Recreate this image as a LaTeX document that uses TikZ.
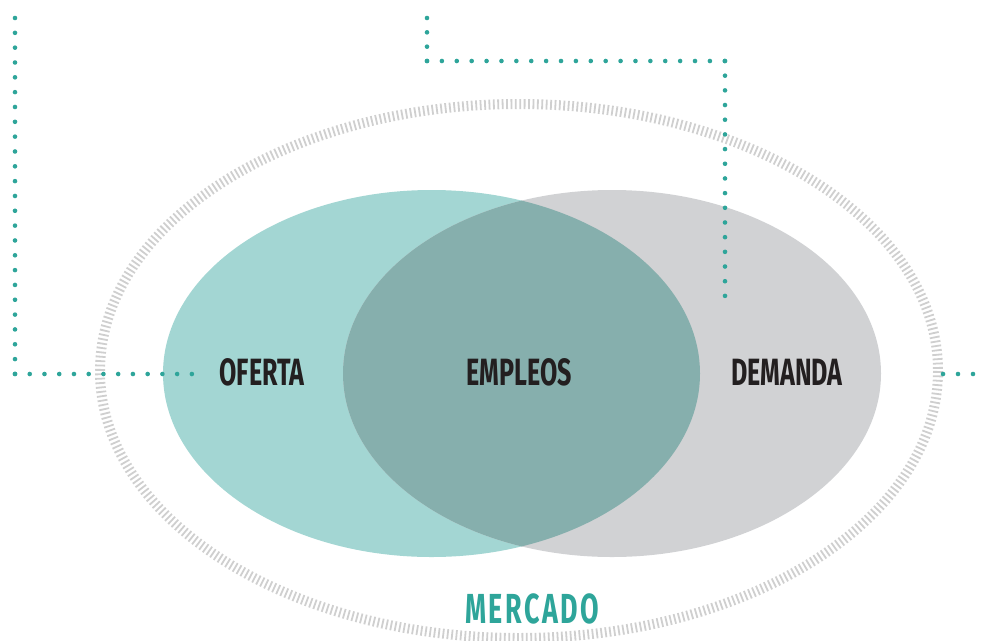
\documentclass[tikz,border=0pt]{standalone}
\usepackage{fontspec}
\usepackage{xcolor}
\usetikzlibrary{positioning}
\newfontfamily\condfont[FakeStretch=0.66]{Fira Sans}
\newfontfamily\widecondfont[FakeStretch=0.64, LetterSpace=6]{Fira Sans}

\definecolor{ofertacol}{HTML}{A3D6D3}
\definecolor{demandacol}{HTML}{D1D2D4}
\definecolor{empleoscol}{HTML}{86AFAD}
\definecolor{dotcol}{HTML}{2EA59A}
\definecolor{ringcol}{HTML}{CFCFCF}
\definecolor{textcol}{HTML}{231F20}

\tikzset{
  dotline/.style={dotcol, line width=4.6pt, line cap=round, dash pattern=on 0pt off #1},
  dotline/.default=14.7pt,
  ringline/.style={ringcol, line width=10pt, dash pattern=on 1.8pt off 2.6pt},
  setlabel/.style={font=\condfont\bfseries\fontsize{38}{38}\selectfont, text=textcol, inner sep=0pt},
}

\begin{document}
\begin{tikzpicture}[x=1pt, y=-1pt]

\useasboundingbox (0,0) rectangle (984,640);

% mercado ring
\draw[ringline] (519,371) ellipse [x radius=419, y radius=267];

% sets
\fill[ofertacol] (431.5,373.5) ellipse [x radius=268.5, y radius=183.5];
\fill[demandacol] (612,373.5) ellipse [x radius=269, y radius=183.5];
\begin{scope}
\clip (431.5,373.5) ellipse [x radius=268.5, y radius=183.5];
\fill[empleoscol] (612,373.5) ellipse [x radius=269, y radius=183.5];
\end{scope}

\node[setlabel] (oferta) at (262,372) {OFERTA};
\node[setlabel] (empleos) at (519,372) {EMPLEOS};
\node[setlabel] (demanda) at (787,372) {DEMANDA};
\node[setlabel, text=dotcol, font=\widecondfont\bfseries\fontsize{42}{42}\selectfont] (mercado) at (532,609) {MERCADO};

% dotted lines
\coordinate (leftTop) at (15,18);
\coordinate (leftCorner) at (15,374);
\coordinate (leftEnd) at (192,374);
\coordinate (midTop) at (427,18);
\coordinate (midCorner) at (427,61);
\coordinate (rightCorner) at (725,61);
\coordinate (midEnd) at (725,296);
\coordinate (rightStart) at (943,374);
\coordinate (rightEnd) at (973,374);

\draw[dotline=14.83pt] (leftTop) -- (leftCorner);
\draw[dotline=14.74pt] (leftCorner) -- (leftEnd);
\draw[dotline=14.33pt] (midTop) -- (midCorner);
\draw[dotline=14.89pt] (midCorner) -- (rightCorner);
\draw[dotline=14.68pt] (rightCorner) -- (midEnd);
\draw[dotline=14.99pt] (rightStart) -- (rightEnd);

\end{tikzpicture}
\end{document}
